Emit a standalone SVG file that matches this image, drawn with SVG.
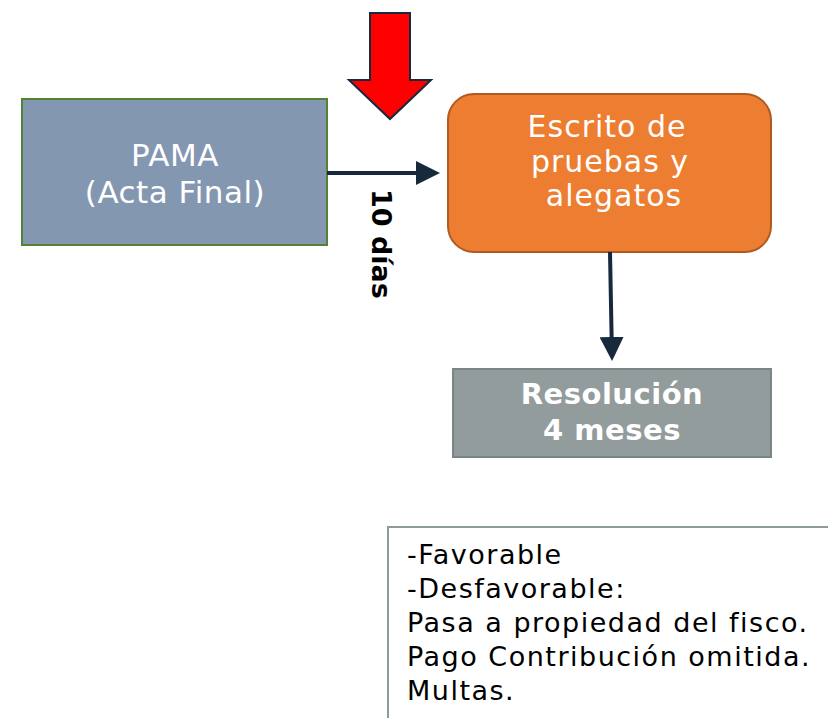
<svg xmlns="http://www.w3.org/2000/svg" width="828" height="718" viewBox="0 0 828 718">
<defs>
<marker id="ah" markerWidth="6" markerHeight="6" refX="5" refY="3" orient="auto" markerUnits="strokeWidth">
<path d="M0,0 L6,3 L0,6 Z" fill="#17293d"/>
</marker>
<style>
.t{font-family:"DejaVu Sans",sans-serif;}
.w{fill:#ffffff;}
.conn{stroke:#17293d;stroke-width:4;fill:none;}
.body{font-size:27px;letter-spacing:1.5px;fill:#000000;}
</style>
</defs>
<rect width="828" height="718" fill="#ffffff"/>
<g id="red-arrow">
<path d="M370,13 L410,13 L410,80 L431,80 L390,119 L349,80 L370,80 Z" fill="#ff0000" stroke="#17293d" stroke-width="2"/>
</g>
<g id="pama">
<rect x="22" y="99" width="305" height="146" fill="#8497b0" stroke="#548235" stroke-width="2"/>
<text class="t w" x="175" y="166" font-size="31" letter-spacing="0.5" text-anchor="middle">PAMA</text>
<text class="t w" x="175" y="203" font-size="31" letter-spacing="0.5" text-anchor="middle">(Acta Final)</text>
</g>
<g id="escrito">
<rect x="448" y="94" width="323" height="158" rx="26" fill="#ed7d31" stroke="#ae5a21" stroke-width="2"/>
<text class="t w" x="607" y="137" font-size="30" letter-spacing="1" text-anchor="middle">Escrito de</text>
<text class="t w" x="610" y="172" font-size="30" letter-spacing="1" text-anchor="middle">pruebas y</text>
<text class="t w" x="614" y="206" font-size="30" letter-spacing="1" text-anchor="middle">alegatos</text>
</g>
<g id="resolucion">
<rect x="453" y="369" width="318" height="88" fill="#939c9c" stroke="#7b8585" stroke-width="2"/>
<text class="t w" x="612" y="404" font-size="29" letter-spacing="0.5" font-weight="bold" text-anchor="middle">Resolución</text>
<text class="t w" x="612" y="440" font-size="29" letter-spacing="0.5" font-weight="bold" text-anchor="middle">4 meses</text>
</g>
<g id="resultados">
<rect x="388" y="527" width="460" height="210" fill="#ffffff" stroke="#8f9a9a" stroke-width="2"/>
<text class="t body" x="407" y="564">-Favorable</text>
<text class="t body" x="407" y="598">-Desfavorable:</text>
<text class="t body" x="407" y="632">Pasa a propiedad del fisco.</text>
<text class="t body" x="407" y="666">Pago Contribución omitida.</text>
<text class="t body" x="407" y="700">Multas.</text>
</g>
<g id="connectors">
<line class="conn" x1="327" y1="173" x2="436" y2="173" marker-end="url(#ah)"/>
<line class="conn" x1="610" y1="252" x2="612" y2="357" marker-end="url(#ah)"/>
<text class="t" x="372" y="244" font-size="27" font-weight="bold" fill="#000000" text-anchor="middle" transform="rotate(90 372 244)">10 días</text>
</g>
</svg>
